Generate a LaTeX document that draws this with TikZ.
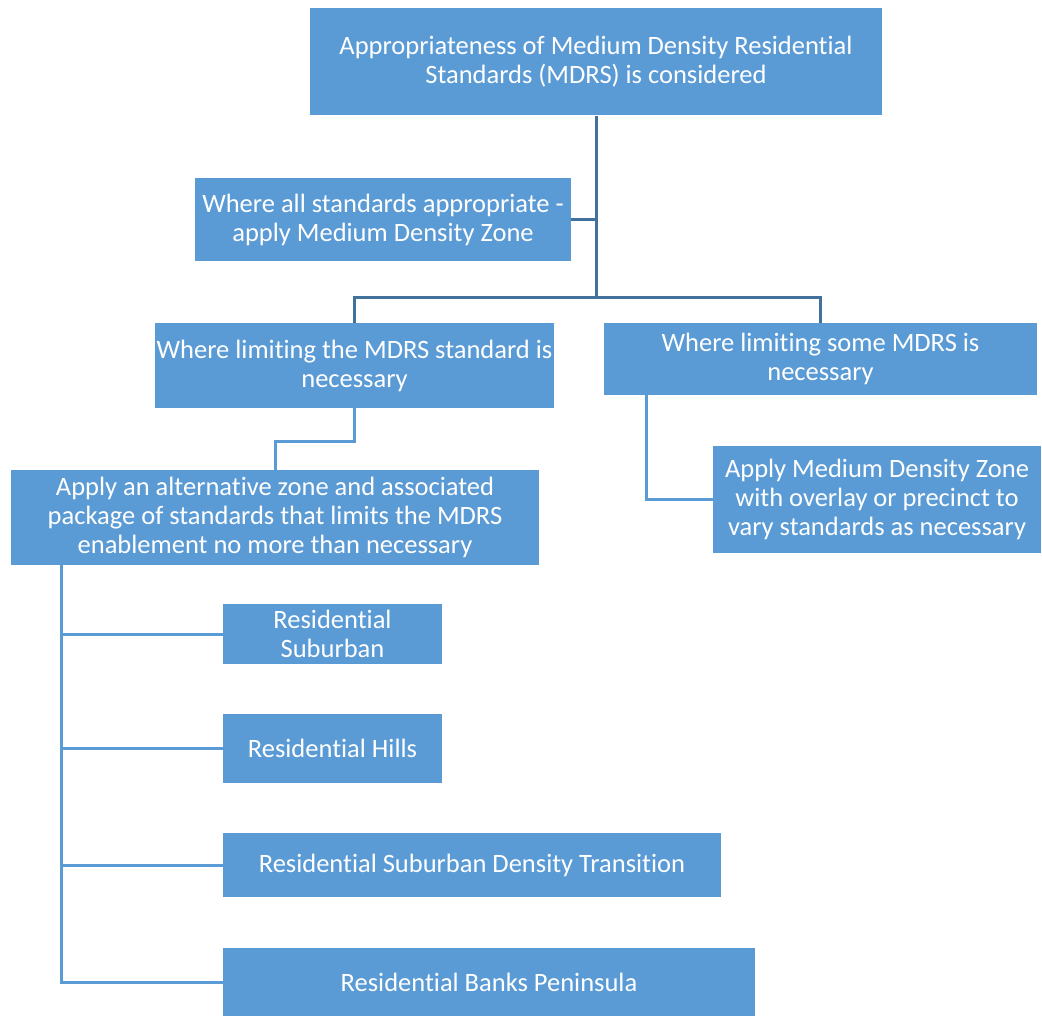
\documentclass[tikz,border=0pt]{standalone}
\usepackage{fontspec}
\setmainfont{Carlito}[Ligatures=NoCommon]
\usetikzlibrary{calc}
\definecolor{boxblue}{HTML}{5B9BD5}
\definecolor{linkdark}{HTML}{41719C}
\def\zonefont{\fontsize{26.5}{29}\selectfont}
\tikzset{
	zonebox/.style={fill=boxblue, text=white, inner sep=0pt, align=center, font=\zonefont},
	trunk/.style={draw=linkdark, line width=3pt},
	branch/.style={draw=boxblue, line width=3pt}
}

\begin{document}
\begin{tikzpicture}[x=1pt, y=-1pt]
		%%%%% START %%%%%
		\useasboundingbox (0, 0) rectangle (1042, 1016);
		
		\node[zonebox, minimum width=572, minimum height=107] (top) at (596, 62) {Appropriateness of Medium Density Residential\\Standards (MDRS) is considered};
		\node[zonebox, minimum width=376, minimum height=83] (allstd) at (383, 219.5) {Where all standards appropriate -\\apply Medium Density Zone};
		\node[zonebox, minimum width=399, minimum height=85] (limstd) at (354.5, 365.5) {Where limiting the MDRS standard is\\necessary};
		\node[zonebox, minimum width=433, minimum height=72] (limsome) at (820.5, 359) {Where limiting some MDRS is\\necessary};
		\node[zonebox, minimum width=528, minimum height=95] (altzone) at (275, 517.5) {Apply an alternative zone and associated\\package of standards that limits the MDRS\\enablement no more than necessary};
		\node[zonebox, minimum width=328, minimum height=107] (overlay) at (877, 499.5) {Apply Medium Density Zone\\with overlay or precinct to\\vary standards as necessary};
		
		\node[zonebox, minimum width=219, minimum height=60] (suburban) at (332.5, 634) {Residential\\Suburban};
		\node[zonebox, minimum width=219, minimum height=69] (hills) at (332.5, 748.5) {Residential Hills};
		\node[zonebox, minimum width=498, minimum height=64] (transition) at (472, 865) {Residential Suburban Density Transition};
		\node[zonebox, minimum width=532, minimum height=68] (banks) at (489, 982) {Residential Banks Peninsula};
		
		\coordinate (fork) at ($(top.south)+(0, 182)$);
		\draw[trunk] (top.south) -- (fork);
		\draw[trunk] (allstd.east) -- (allstd.east -| fork);
		\draw[trunk] (limstd.north) |- (fork) -| (limsome.north);
		
		\draw[branch] (limstd.south) -- ++(0, 33) -| (altzone.north);
		\draw[branch] ($(limsome.south west)+(43, 0)$) |- (overlay.west);
		
		\coordinate (spine) at ($(altzone.south west)+(51, 0)$);
		\draw[branch] (spine) |- (banks.west);
		\foreach \zone in {suburban, hills, transition}
			\draw[branch] (spine |- \zone.west) -- (\zone.west);
		
		%%%%% END %%%%%
	\end{tikzpicture}
\end{document}
